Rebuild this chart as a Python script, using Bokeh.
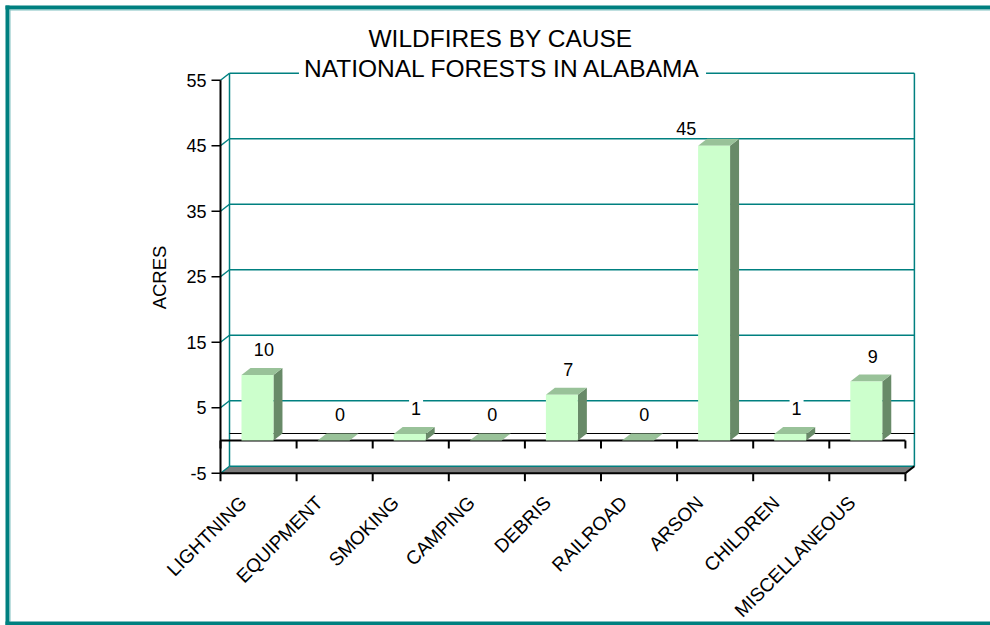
import math
from bokeh.plotting import figure
from bokeh.models import Range1d
from bokeh.core.properties import value
from bokeh.embed import file_html
from bokeh.resources import INLINE

# ---------------- data ----------------
causes = ["LIGHTNING", "EQUIPMENT", "SMOKING", "CAMPING", "DEBRIS",
          "RAILROAD", "ARSON", "CHILDREN", "MISCELLANEOUS"]
acres = [10, 0, 1, 0, 7, 0, 45, 1, 9]
y_ticks = [-5, 5, 15, 25, 35, 45, 55]
title_lines = ["WILDFIRES BY CAUSE", "NATIONAL FORESTS IN ALABAMA"]
y_label = "ACRES"

# ---------------- layout / style ----------------
W, H = 990, 625
U = 76.1      # px per category
S = 6.55      # px per acre
X0 = 220      # canvas px where the category axis starts
Z0 = 440      # canvas px (from top) of the zero level


def X(px):
    return (px - X0) / U


def Y(py):
    return (Z0 - py) / S


DX = 9 / U
DY = 7 / S
n = len(causes)
ymin, ymax = y_ticks[0], y_ticks[-1]
FONT = value("Liberation Sans")
TEAL = "#008080"
LIGHT = "#7fbfbf"
FRONT, TOP, SIDE = "#CCFFCC", "#99C299", "#688A68"

p = figure(width=W, height=H,
           x_range=Range1d(-X0 / U, (W - X0) / U),
           y_range=Range1d(-(H - Z0) / S, Z0 / S),
           output_backend="svg", toolbar_location=None, min_border=0,
           x_axis_location=None, y_axis_location=None,
           outline_line_color=None, background_fill_color="white",
           border_fill_color="white")
p.grid.visible = False

# outer frame
p.quad(left=[X(5)], right=[X(9)], bottom=[Y(625)], top=[Y(5)], fill_color=TEAL, line_color=None)
p.quad(left=[X(9)], right=[X(10)], bottom=[Y(621)], top=[Y(9)], fill_color=LIGHT, line_color=None)
p.quad(left=[X(5)], right=[X(1000)], bottom=[Y(9)], top=[Y(5)], fill_color=TEAL, line_color=None)
p.quad(left=[X(9)], right=[X(1000)], bottom=[Y(10)], top=[Y(9)], fill_color=LIGHT, line_color=None)
p.quad(left=[X(5)], right=[X(1000)], bottom=[Y(625)], top=[Y(621)], fill_color=TEAL, line_color=None)

# floor slab at the minimum
p.patch([0, DX, n + DX, n], [ymin, ymin + DY, ymin + DY, ymin], fill_color="#7a7a7a", line_color=None)

# back wall grid lines, side diagonals, wall edges
p.segment(x0=[DX] * len(y_ticks), y0=[t + DY for t in y_ticks],
          x1=[n + DX] * len(y_ticks), y1=[t + DY for t in y_ticks],
          line_color=TEAL, line_width=1.5)
p.segment(x0=[0] * len(y_ticks), y0=y_ticks, x1=[DX] * len(y_ticks),
          y1=[t + DY for t in y_ticks], line_color=TEAL, line_width=1.5)
p.segment(x0=[DX, n + DX], y0=[ymin + DY] * 2, x1=[DX, n + DX], y1=[ymax + DY] * 2,
          line_color=TEAL, line_width=1.5)

# zero plane
p.segment(x0=[DX], y0=[DY], x1=[n + DX], y1=[DY], line_color="black", line_width=1.2)
p.segment(x0=[0], y0=[0], x1=[n], y1=[0], line_color="black", line_width=2)
# front edge of the floor
p.segment(x0=[0, n], y0=[ymin, ymin], x1=[n, n + DX], y1=[ymin, ymin + DY],
          line_color="black", line_width=2)
# category boundary ticks
bounds = list(range(n + 1))
p.segment(x0=bounds, y0=[0] * len(bounds), x1=bounds, y1=[-8 / S] * len(bounds),
          line_color="black", line_width=2)
p.segment(x0=bounds, y0=[ymin] * len(bounds), x1=bounds, y1=[ymin - 8 / S] * len(bounds),
          line_color="black", line_width=2)

# value axis
p.segment(x0=[0], y0=[ymin], x1=[0], y1=[ymax], line_color="black", line_width=2)
p.segment(x0=[X(211)] * len(y_ticks), y0=y_ticks, x1=[0] * len(y_ticks), y1=y_ticks,
          line_color="black", line_width=1.5)

# bars
bx0 = [i + 0.276 for i in range(n)]
bx1 = [i + 0.696 for i in range(n)]
side_xs, side_ys = [], []
for a, b, v in zip(bx0, bx1, acres):
    if v > 0:
        side_xs.append([b, b + DX, b + DX, b])
        side_ys.append([0, DY, v + DY, v])
p.patches(side_xs, side_ys, fill_color=SIDE, line_color=None)
p.patches([[a, b, b + DX, a + DX] for a, b in zip(bx0, bx1)],
          [[v, v, v + DY, v + DY] for v in acres], fill_color=TOP, line_color=None)
p.quad(left=bx0, right=bx1, bottom=[0] * n, top=acres, fill_color=FRONT, line_color=None)

# value labels (the tallest bar's label sits to its left, as in the original)
tallest = acres.index(max(acres))
lab_x = [i + 0.57 - (0.45 if i == tallest else 0) for i in range(n)]
lab_y = [v + (2.6 if i == tallest else 3.9) for i, v in enumerate(acres)]
p.text(x=lab_x, y=lab_y, text=[str(v) for v in acres],
       text_font=FONT, text_font_size="18px", text_align="center", text_baseline="middle",
       text_color="black", background_fill_color="white", padding=2)

# y tick labels
p.text(x=[X(206)] * len(y_ticks), y=y_ticks, text=[str(t) for t in y_ticks],
       text_font=FONT, text_font_size="18px", text_align="right", text_baseline="middle",
       text_color="black")

# y axis label
p.text(x=[X(159)], y=[Y(277)], text=[y_label], angle=math.pi / 2,
       text_font=FONT, text_font_size="18.5px", text_align="center", text_baseline="middle",
       text_color="black")

# category labels
p.text(x=[i + 0.30 for i in range(n)], y=[Y(499)] * n, text=causes, angle=math.pi / 4,
       text_font=FONT, text_font_size="19px", text_align="right", text_baseline="middle",
       text_color="black")

# title
p.text(x=[X(500)], y=[Y(38)], text=[title_lines[0]], text_font=FONT, text_font_size="24.5px",
       text_align="center", text_baseline="middle", text_color="black")
p.text(x=[X(502)], y=[Y(68)], text=[title_lines[1]], text_font=FONT, text_font_size="24.5px",
       text_align="center", text_baseline="middle", text_color="black",
       background_fill_color="white", padding=5)

open("out.html", "w").write(file_html(p, INLINE))
